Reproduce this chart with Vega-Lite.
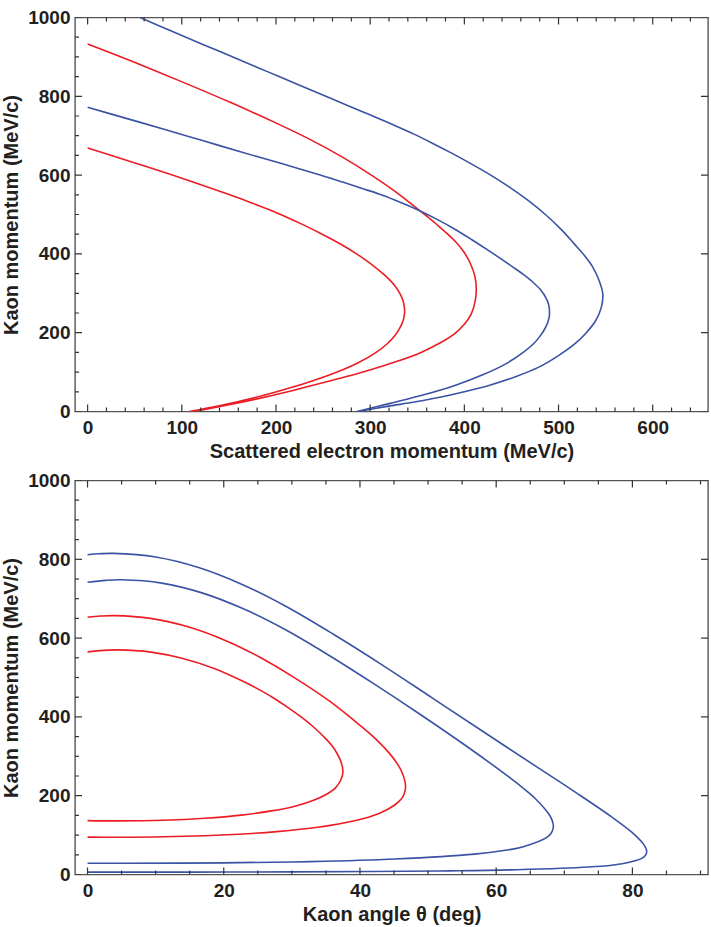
{
  "$schema": "https://vega.github.io/schema/vega-lite/v6.json",
  "padding": {"left": 1, "top": 7.5, "right": 0, "bottom": 0},
  "spacing": 8,
  "config": {
    "view": {"stroke": "#555555", "strokeWidth": 1.4},
    "axis": {
      "grid": false,
      "domain": false,
      "ticks": false,
      "labelFont": "Liberation Sans",
      "labelFontSize": 19,
      "labelFontWeight": "bold",
      "labelColor": "#231f20",
      "labelFlush": false,
      "labelOverlap": false,
      "titleFont": "Liberation Sans",
      "titleFontSize": 20,
      "titleFontWeight": "bold",
      "titleColor": "#231f20"
    }
  },
  "datasets": {
    "top": [
      {"c": "r1", "i": 0, "x": 0, "y": 669}, {"c": "r1", "i": 1, "x": 46, "y": 634}, {"c": "r1", "i": 2, "x": 90, "y": 600}, {"c": "r1", "i": 3, "x": 121, "y": 575}, {"c": "r1", "i": 4, "x": 151, "y": 550}, {"c": "r1", "i": 5, "x": 173.5, "y": 530}, {"c": "r1", "i": 6, "x": 195, "y": 510}, {"c": "r1", "i": 7, "x": 212.5, "y": 492}, {"c": "r1", "i": 8, "x": 228, "y": 475}, {"c": "r1", "i": 9, "x": 249, "y": 450}, {"c": "r1", "i": 10, "x": 268.5, "y": 425}, {"c": "r1", "i": 11, "x": 285.5, "y": 400}, {"c": "r1", "i": 12, "x": 296, "y": 383}, {"c": "r1", "i": 13, "x": 305.5, "y": 366}, {"c": "r1", "i": 14, "x": 316, "y": 345}, {"c": "r1", "i": 15, "x": 326, "y": 320}, {"c": "r1", "i": 16, "x": 331.5, "y": 300}, {"c": "r1", "i": 17, "x": 334.8, "y": 282}, {"c": "r1", "i": 18, "x": 336.1, "y": 268}, {"c": "r1", "i": 19, "x": 336.6, "y": 256}, {"c": "r1", "i": 20, "x": 336.3, "y": 245}, {"c": "r1", "i": 21, "x": 335.5, "y": 235}, {"c": "r1", "i": 22, "x": 333.8, "y": 223}, {"c": "r1", "i": 23, "x": 330.5, "y": 208}, {"c": "r1", "i": 24, "x": 326.3, "y": 193}, {"c": "r1", "i": 25, "x": 318.1, "y": 172}, {"c": "r1", "i": 26, "x": 306.3, "y": 150}, {"c": "r1", "i": 27, "x": 288.3, "y": 125}, {"c": "r1", "i": 28, "x": 264.9, "y": 100}, {"c": "r1", "i": 29, "x": 234.3, "y": 74}, {"c": "r1", "i": 30, "x": 200.7, "y": 50}, {"c": "r1", "i": 31, "x": 179, "y": 36}, {"c": "r1", "i": 32, "x": 141, "y": 15}, {"c": "r1", "i": 33, "x": 108, "y": 0},
      {"c": "r2", "i": 0, "x": 0, "y": 933}, {"c": "r2", "i": 1, "x": 51, "y": 885}, {"c": "r2", "i": 2, "x": 101, "y": 836}, {"c": "r2", "i": 3, "x": 152, "y": 784}, {"c": "r2", "i": 4, "x": 202, "y": 730}, {"c": "r2", "i": 5, "x": 236.5, "y": 690}, {"c": "r2", "i": 6, "x": 271, "y": 645}, {"c": "r2", "i": 7, "x": 300, "y": 602}, {"c": "r2", "i": 8, "x": 327.5, "y": 557}, {"c": "r2", "i": 9, "x": 352.5, "y": 510}, {"c": "r2", "i": 10, "x": 371, "y": 474}, {"c": "r2", "i": 11, "x": 389.5, "y": 434}, {"c": "r2", "i": 12, "x": 399.5, "y": 405}, {"c": "r2", "i": 13, "x": 406.5, "y": 375}, {"c": "r2", "i": 14, "x": 411.2, "y": 343}, {"c": "r2", "i": 15, "x": 412.7, "y": 311}, {"c": "r2", "i": 16, "x": 411.5, "y": 280}, {"c": "r2", "i": 17, "x": 407.4, "y": 248}, {"c": "r2", "i": 18, "x": 399.5, "y": 220}, {"c": "r2", "i": 19, "x": 389.5, "y": 197}, {"c": "r2", "i": 20, "x": 375, "y": 175}, {"c": "r2", "i": 21, "x": 354, "y": 150}, {"c": "r2", "i": 22, "x": 332, "y": 130}, {"c": "r2", "i": 23, "x": 315, "y": 117}, {"c": "r2", "i": 24, "x": 286, "y": 96}, {"c": "r2", "i": 25, "x": 261, "y": 80}, {"c": "r2", "i": 26, "x": 232, "y": 62}, {"c": "r2", "i": 27, "x": 207, "y": 47}, {"c": "r2", "i": 28, "x": 180, "y": 32}, {"c": "r2", "i": 29, "x": 146, "y": 15}, {"c": "r2", "i": 30, "x": 113, "y": 0},
      {"c": "b1", "i": 0, "x": 0, "y": 772}, {"c": "b1", "i": 1, "x": 41, "y": 744}, {"c": "b1", "i": 2, "x": 82, "y": 716}, {"c": "b1", "i": 3, "x": 123, "y": 687}, {"c": "b1", "i": 4, "x": 164, "y": 658}, {"c": "b1", "i": 5, "x": 205, "y": 630}, {"c": "b1", "i": 6, "x": 246, "y": 601}, {"c": "b1", "i": 7, "x": 268.5, "y": 584}, {"c": "b1", "i": 8, "x": 290, "y": 567}, {"c": "b1", "i": 9, "x": 309.5, "y": 552}, {"c": "b1", "i": 10, "x": 326, "y": 537}, {"c": "b1", "i": 11, "x": 339, "y": 524}, {"c": "b1", "i": 12, "x": 352, "y": 510}, {"c": "b1", "i": 13, "x": 371.5, "y": 487}, {"c": "b1", "i": 14, "x": 389, "y": 464}, {"c": "b1", "i": 15, "x": 408, "y": 436}, {"c": "b1", "i": 16, "x": 425.5, "y": 409}, {"c": "b1", "i": 17, "x": 438.6, "y": 388}, {"c": "b1", "i": 18, "x": 452, "y": 366}, {"c": "b1", "i": 19, "x": 462, "y": 349}, {"c": "b1", "i": 20, "x": 471, "y": 332}, {"c": "b1", "i": 21, "x": 480.5, "y": 310}, {"c": "b1", "i": 22, "x": 487.2, "y": 286}, {"c": "b1", "i": 23, "x": 489.6, "y": 270}, {"c": "b1", "i": 24, "x": 490.4, "y": 255}, {"c": "b1", "i": 25, "x": 490.1, "y": 240}, {"c": "b1", "i": 26, "x": 488.4, "y": 225}, {"c": "b1", "i": 27, "x": 485.5, "y": 210}, {"c": "b1", "i": 28, "x": 480, "y": 190}, {"c": "b1", "i": 29, "x": 473.5, "y": 172}, {"c": "b1", "i": 30, "x": 462.5, "y": 150}, {"c": "b1", "i": 31, "x": 444, "y": 121}, {"c": "b1", "i": 32, "x": 419.5, "y": 93}, {"c": "b1", "i": 33, "x": 390, "y": 66}, {"c": "b1", "i": 34, "x": 358, "y": 43}, {"c": "b1", "i": 35, "x": 320, "y": 20}, {"c": "b1", "i": 36, "x": 286, "y": 0},
      {"c": "b2", "i": 0, "x": 55.7, "y": 1000}, {"c": "b2", "i": 1, "x": 89.5, "y": 965}, {"c": "b2", "i": 2, "x": 123, "y": 931}, {"c": "b2", "i": 3, "x": 158, "y": 896}, {"c": "b2", "i": 4, "x": 191.5, "y": 862}, {"c": "b2", "i": 5, "x": 225, "y": 828}, {"c": "b2", "i": 6, "x": 258, "y": 795}, {"c": "b2", "i": 7, "x": 292.5, "y": 760}, {"c": "b2", "i": 8, "x": 326, "y": 726}, {"c": "b2", "i": 9, "x": 346.5, "y": 704}, {"c": "b2", "i": 10, "x": 366, "y": 681}, {"c": "b2", "i": 11, "x": 385.5, "y": 657}, {"c": "b2", "i": 12, "x": 404, "y": 633}, {"c": "b2", "i": 13, "x": 428, "y": 600}, {"c": "b2", "i": 14, "x": 447.5, "y": 570}, {"c": "b2", "i": 15, "x": 468, "y": 535}, {"c": "b2", "i": 16, "x": 486, "y": 500}, {"c": "b2", "i": 17, "x": 502.5, "y": 463}, {"c": "b2", "i": 18, "x": 516.5, "y": 426}, {"c": "b2", "i": 19, "x": 527.5, "y": 396}, {"c": "b2", "i": 20, "x": 536.5, "y": 366}, {"c": "b2", "i": 21, "x": 543, "y": 333}, {"c": "b2", "i": 22, "x": 547, "y": 299}, {"c": "b2", "i": 23, "x": 545.5, "y": 265}, {"c": "b2", "i": 24, "x": 539.5, "y": 231}, {"c": "b2", "i": 25, "x": 529.5, "y": 200}, {"c": "b2", "i": 26, "x": 517.5, "y": 172}, {"c": "b2", "i": 27, "x": 500, "y": 142}, {"c": "b2", "i": 28, "x": 478.5, "y": 112}, {"c": "b2", "i": 29, "x": 455, "y": 89}, {"c": "b2", "i": 30, "x": 426, "y": 66}, {"c": "b2", "i": 31, "x": 400, "y": 50}, {"c": "b2", "i": 32, "x": 374, "y": 36}, {"c": "b2", "i": 33, "x": 347, "y": 24}, {"c": "b2", "i": 34, "x": 318, "y": 13}, {"c": "b2", "i": 35, "x": 287, "y": 0}
    ],
    "bot": [
      {"c": "r1", "i": 0, "x": 0, "y": 565}, {"c": "r1", "i": 1, "x": 2.3, "y": 568.8}, {"c": "r1", "i": 2, "x": 4.5, "y": 570}, {"c": "r1", "i": 3, "x": 9.3, "y": 564.5}, {"c": "r1", "i": 4, "x": 14, "y": 548.4}, {"c": "r1", "i": 5, "x": 18.7, "y": 522.3}, {"c": "r1", "i": 6, "x": 23.2, "y": 487.3}, {"c": "r1", "i": 7, "x": 25.6, "y": 465.5}, {"c": "r1", "i": 8, "x": 27.6, "y": 444.9}, {"c": "r1", "i": 9, "x": 29.5, "y": 422.9}, {"c": "r1", "i": 10, "x": 31.6, "y": 396.6}, {"c": "r1", "i": 11, "x": 33.3, "y": 372.5}, {"c": "r1", "i": 12, "x": 35, "y": 344.3}, {"c": "r1", "i": 13, "x": 35.9, "y": 326.5}, {"c": "r1", "i": 14, "x": 36.6, "y": 308.4}, {"c": "r1", "i": 15, "x": 37.2, "y": 286.7}, {"c": "r1", "i": 16, "x": 37.5, "y": 261.6}, {"c": "r1", "i": 17, "x": 37.2, "y": 240.5}, {"c": "r1", "i": 18, "x": 36.4, "y": 220}, {"c": "r1", "i": 19, "x": 35.1, "y": 203.6}, {"c": "r1", "i": 20, "x": 33.2, "y": 188.2}, {"c": "r1", "i": 21, "x": 30.6, "y": 174}, {"c": "r1", "i": 22, "x": 27, "y": 161.4}, {"c": "r1", "i": 23, "x": 22.6, "y": 150.8}, {"c": "r1", "i": 24, "x": 17.2, "y": 142.8}, {"c": "r1", "i": 25, "x": 11.1, "y": 137.7}, {"c": "r1", "i": 26, "x": 4.5, "y": 136}, {"c": "r1", "i": 27, "x": 0, "y": 136.8},
      {"c": "r2", "i": 0, "x": 0, "y": 652.9}, {"c": "r2", "i": 1, "x": 1.9, "y": 655.9}, {"c": "r2", "i": 2, "x": 4, "y": 657}, {"c": "r2", "i": 3, "x": 9.25, "y": 650.1}, {"c": "r2", "i": 4, "x": 14.5, "y": 629.9}, {"c": "r2", "i": 5, "x": 19.8, "y": 597.2}, {"c": "r2", "i": 6, "x": 25.1, "y": 553.4}, {"c": "r2", "i": 7, "x": 30.3, "y": 500.5}, {"c": "r2", "i": 8, "x": 35.5, "y": 440.5}, {"c": "r2", "i": 9, "x": 40.2, "y": 375.7}, {"c": "r2", "i": 10, "x": 42.3, "y": 344.3}, {"c": "r2", "i": 11, "x": 44.3, "y": 308.1}, {"c": "r2", "i": 12, "x": 45.5, "y": 280.8}, {"c": "r2", "i": 13, "x": 46.2, "y": 258.2}, {"c": "r2", "i": 14, "x": 46.7, "y": 224.7}, {"c": "r2", "i": 15, "x": 46.5, "y": 204.9}, {"c": "r2", "i": 16, "x": 46.1, "y": 192}, {"c": "r2", "i": 17, "x": 45, "y": 175.2}, {"c": "r2", "i": 18, "x": 42.8, "y": 155.1}, {"c": "r2", "i": 19, "x": 39.2, "y": 136.4}, {"c": "r2", "i": 20, "x": 33.8, "y": 119.9}, {"c": "r2", "i": 21, "x": 27.8, "y": 108.9}, {"c": "r2", "i": 22, "x": 22.2, "y": 102.3}, {"c": "r2", "i": 23, "x": 11.2, "y": 95.7}, {"c": "r2", "i": 24, "x": 4, "y": 94.5}, {"c": "r2", "i": 25, "x": 0, "y": 94.8},
      {"c": "b2", "i": 0, "x": 0, "y": 741.7}, {"c": "b2", "i": 1, "x": 2.7, "y": 746.6}, {"c": "b2", "i": 2, "x": 5, "y": 748}, {"c": "b2", "i": 3, "x": 10.9, "y": 739.6}, {"c": "b2", "i": 4, "x": 16.8, "y": 714.8}, {"c": "b2", "i": 5, "x": 22.8, "y": 674.9}, {"c": "b2", "i": 6, "x": 29, "y": 621.7}, {"c": "b2", "i": 7, "x": 35.3, "y": 557.8}, {"c": "b2", "i": 8, "x": 41.9, "y": 485.6}, {"c": "b2", "i": 9, "x": 48.7, "y": 408}, {"c": "b2", "i": 10, "x": 55.5, "y": 327.4}, {"c": "b2", "i": 11, "x": 62, "y": 245.9}, {"c": "b2", "i": 12, "x": 64, "y": 218.7}, {"c": "b2", "i": 13, "x": 65.8, "y": 191.7}, {"c": "b2", "i": 14, "x": 67.7, "y": 154}, {"c": "b2", "i": 15, "x": 68.2, "y": 138}, {"c": "b2", "i": 16, "x": 68.4, "y": 122.7}, {"c": "b2", "i": 17, "x": 68.2, "y": 109}, {"c": "b2", "i": 18, "x": 67.6, "y": 96.1}, {"c": "b2", "i": 19, "x": 64, "y": 70.7}, {"c": "b2", "i": 20, "x": 61.1, "y": 60.9}, {"c": "b2", "i": 21, "x": 56.8, "y": 51.7}, {"c": "b2", "i": 22, "x": 45.2, "y": 39.4}, {"c": "b2", "i": 23, "x": 32.8, "y": 32.8}, {"c": "b2", "i": 24, "x": 19.9, "y": 29.6}, {"c": "b2", "i": 25, "x": 5, "y": 28.5}, {"c": "b2", "i": 26, "x": 0, "y": 28.6},
      {"c": "b1", "i": 0, "x": 0, "y": 811.6}, {"c": "b1", "i": 1, "x": 1.7, "y": 814}, {"c": "b1", "i": 2, "x": 3.8, "y": 815}, {"c": "b1", "i": 3, "x": 10, "y": 806}, {"c": "b1", "i": 4, "x": 16.3, "y": 779.3}, {"c": "b1", "i": 5, "x": 22.7, "y": 736.3}, {"c": "b1", "i": 6, "x": 29.3, "y": 679}, {"c": "b1", "i": 7, "x": 36.1, "y": 609.8}, {"c": "b1", "i": 8, "x": 43.3, "y": 531.6}, {"c": "b1", "i": 9, "x": 50.7, "y": 447.1}, {"c": "b1", "i": 10, "x": 58.4, "y": 359.1}, {"c": "b1", "i": 11, "x": 66.3, "y": 269.3}, {"c": "b1", "i": 12, "x": 71.6, "y": 209.2}, {"c": "b1", "i": 13, "x": 76.7, "y": 149.3}, {"c": "b1", "i": 14, "x": 79.9, "y": 107.5}, {"c": "b1", "i": 15, "x": 81.6, "y": 77.7}, {"c": "b1", "i": 16, "x": 82, "y": 65.8}, {"c": "b1", "i": 17, "x": 82.1, "y": 58.7}, {"c": "b1", "i": 18, "x": 82, "y": 51}, {"c": "b1", "i": 19, "x": 81.5, "y": 42.2}, {"c": "b1", "i": 20, "x": 78.5, "y": 27.5}, {"c": "b1", "i": 21, "x": 73.5, "y": 18.9}, {"c": "b1", "i": 22, "x": 62.1, "y": 11.8}, {"c": "b1", "i": 23, "x": 53.1, "y": 9.3}, {"c": "b1", "i": 24, "x": 41.8, "y": 7.7}, {"c": "b1", "i": 25, "x": 20.2, "y": 6.3}, {"c": "b1", "i": 26, "x": 3.8, "y": 6}, {"c": "b1", "i": 27, "x": 0, "y": 6}
    ],
    "topXTicks": [{"v": 0}, {"v": 20}, {"v": 40}, {"v": 60}, {"v": 80}, {"v": 100}, {"v": 120}, {"v": 140}, {"v": 160}, {"v": 180}, {"v": 200}, {"v": 220}, {"v": 240}, {"v": 260}, {"v": 280}, {"v": 300}, {"v": 320}, {"v": 340}, {"v": 360}, {"v": 380}, {"v": 400}, {"v": 420}, {"v": 440}, {"v": 460}, {"v": 480}, {"v": 500}, {"v": 520}, {"v": 540}, {"v": 560}, {"v": 580}, {"v": 600}, {"v": 620}, {"v": 640}],
    "botXTicks": [{"v": 0}, {"v": 5}, {"v": 10}, {"v": 15}, {"v": 20}, {"v": 25}, {"v": 30}, {"v": 35}, {"v": 40}, {"v": 45}, {"v": 50}, {"v": 55}, {"v": 60}, {"v": 65}, {"v": 70}, {"v": 75}, {"v": 80}, {"v": 85}, {"v": 90}],
    "yTicks": [{"v": 0}, {"v": 50}, {"v": 100}, {"v": 150}, {"v": 200}, {"v": 250}, {"v": 300}, {"v": 350}, {"v": 400}, {"v": 450}, {"v": 500}, {"v": 550}, {"v": 600}, {"v": 650}, {"v": 700}, {"v": 750}, {"v": 800}, {"v": 850}, {"v": 900}, {"v": 950}, {"v": 1000}]
  },
  "vconcat": [
    {
      "width": 633,
      "height": 394,
      "resolve": {"axis": {"x": "independent", "y": "independent"}},
      "layer": [
        {
          "data": {"name": "top"},
          "mark": {"type": "line", "interpolate": "catmull-rom", "strokeWidth": 1.6, "clip": true},
          "encoding": {
            "x": {"field": "x", "type": "quantitative", "scale": {"domain": [-13.4, 658.7], "nice": false, "zero": false},
                  "axis": {"orient": "bottom", "values": [0, 100, 200, 300, 400, 500, 600], "format": "d", "labelPadding": 7, "title": "Scattered electron momentum (MeV/c)", "titlePadding": 4}},
            "y": {"field": "y", "type": "quantitative", "scale": {"domain": [0, 1000], "nice": false, "zero": false},
                  "axis": {"orient": "left", "values": [0, 200, 400, 600, 800, 1000], "format": "d", "labelPadding": 5, "title": "Kaon momentum (MeV/c)", "titlePadding": 6}},
            "color": {"field": "c", "type": "nominal", "scale": {"domain": ["r1", "r2", "b1", "b2"], "range": ["#ec1c24", "#ec1c24", "#3a53a4", "#3a53a4"]}, "legend": null},
            "order": {"field": "i", "type": "quantitative"}
          }
        },
        {
          "data": {"name": "topXTicks"},
          "mark": {"type": "tick", "orient": "vertical", "thickness": 1.2, "color": "#333333", "opacity": 1, "clip": true},
          "encoding": {
            "x": {"field": "v", "type": "quantitative", "axis": null},
            "y": {"datum": 0, "type": "quantitative", "axis": null},
            "size": {"condition": {"test": "datum.v % 100 === 0", "value": 14}, "value": 8}
          }
        },
        {
          "data": {"name": "topXTicks"},
          "mark": {"type": "tick", "orient": "vertical", "thickness": 1.2, "color": "#333333", "opacity": 1, "clip": true},
          "encoding": {
            "x": {"field": "v", "type": "quantitative", "axis": null},
            "y": {"datum": 1000, "type": "quantitative", "axis": null},
            "size": {"condition": {"test": "datum.v % 100 === 0", "value": 14}, "value": 8}
          }
        },
        {
          "data": {"name": "yTicks"},
          "mark": {"type": "tick", "orient": "horizontal", "thickness": 1.2, "color": "#333333", "opacity": 1, "clip": true},
          "encoding": {
            "y": {"field": "v", "type": "quantitative", "axis": null},
            "x": {"datum": -13.4, "type": "quantitative", "axis": null},
            "size": {"condition": {"test": "datum.v % 200 === 0", "value": 14}, "value": 8}
          }
        },
        {
          "data": {"name": "yTicks"},
          "transform": [{"filter": "datum.v % 200 === 0"}],
          "mark": {"type": "tick", "orient": "horizontal", "thickness": 1.2, "color": "#333333", "opacity": 1, "clip": true, "size": 14},
          "encoding": {
            "y": {"field": "v", "type": "quantitative", "axis": null},
            "x": {"datum": 658.7, "type": "quantitative", "axis": null}
          }
        }
      ]
    },
    {
      "width": 633,
      "height": 394,
      "resolve": {"axis": {"x": "independent", "y": "independent"}},
      "layer": [
        {
          "data": {"name": "bot"},
          "mark": {"type": "line", "interpolate": "catmull-rom", "strokeWidth": 1.6, "clip": true},
          "encoding": {
            "x": {"field": "x", "type": "quantitative", "scale": {"domain": [-1.84, 91.1], "nice": false, "zero": false},
                  "axis": {"orient": "bottom", "values": [0, 20, 40, 60, 80], "format": "d", "labelPadding": 7, "title": "Kaon angle θ (deg)", "titlePadding": 4}},
            "y": {"field": "y", "type": "quantitative", "scale": {"domain": [0, 1000], "nice": false, "zero": false},
                  "axis": {"orient": "left", "values": [0, 200, 400, 600, 800, 1000], "format": "d", "labelPadding": 5, "title": "Kaon momentum (MeV/c)", "titlePadding": 6}},
            "color": {"field": "c", "type": "nominal", "scale": {"domain": ["r1", "r2", "b1", "b2"], "range": ["#ec1c24", "#ec1c24", "#3a53a4", "#3a53a4"]}, "legend": null},
            "order": {"field": "i", "type": "quantitative"}
          }
        },
        {
          "data": {"name": "botXTicks"},
          "mark": {"type": "tick", "orient": "vertical", "thickness": 1.2, "color": "#333333", "opacity": 1, "clip": true},
          "encoding": {
            "x": {"field": "v", "type": "quantitative", "axis": null},
            "y": {"datum": 0, "type": "quantitative", "axis": null},
            "size": {"condition": {"test": "datum.v % 20 === 0", "value": 14}, "value": 8}
          }
        },
        {
          "data": {"name": "botXTicks"},
          "mark": {"type": "tick", "orient": "vertical", "thickness": 1.2, "color": "#333333", "opacity": 1, "clip": true},
          "encoding": {
            "x": {"field": "v", "type": "quantitative", "axis": null},
            "y": {"datum": 1000, "type": "quantitative", "axis": null},
            "size": {"condition": {"test": "datum.v % 20 === 0", "value": 14}, "value": 8}
          }
        },
        {
          "data": {"name": "yTicks"},
          "mark": {"type": "tick", "orient": "horizontal", "thickness": 1.2, "color": "#333333", "opacity": 1, "clip": true},
          "encoding": {
            "y": {"field": "v", "type": "quantitative", "axis": null},
            "x": {"datum": -1.84, "type": "quantitative", "axis": null},
            "size": {"condition": {"test": "datum.v % 200 === 0", "value": 14}, "value": 8}
          }
        },
        {
          "data": {"name": "yTicks"},
          "transform": [{"filter": "datum.v % 200 === 0"}],
          "mark": {"type": "tick", "orient": "horizontal", "thickness": 1.2, "color": "#333333", "opacity": 1, "clip": true, "size": 14},
          "encoding": {
            "y": {"field": "v", "type": "quantitative", "axis": null},
            "x": {"datum": 91.1, "type": "quantitative", "axis": null}
          }
        }
      ]
    }
  ]
}
